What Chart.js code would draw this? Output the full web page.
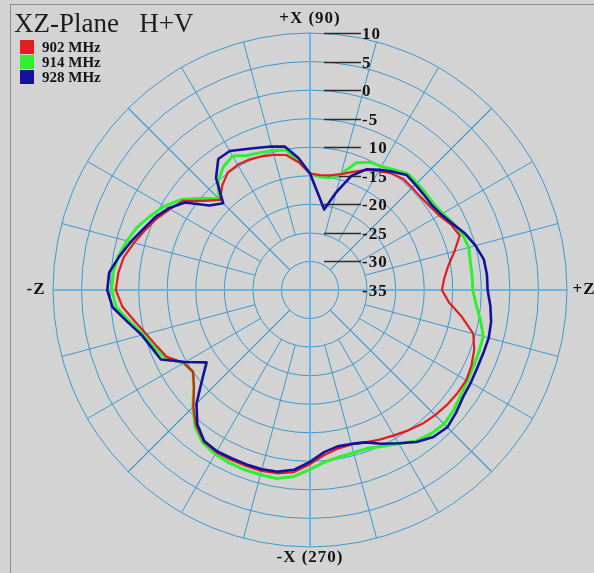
<!DOCTYPE html>
<html>
<head>
<meta charset="utf-8">
<script src="https://cdn.jsdelivr.net/npm/chart.js@4.4.1/dist/chart.umd.min.js"></script>
<style>
  html, body { margin: 0; padding: 0; background: #d3d3d3; }
  #wrap { position: relative; width: 594px; height: 573px; overflow: hidden; }
  #frame { position: absolute; left: 10px; top: 4px; right: 0; bottom: 0;
           border-left: 1px solid #8c8c8c; border-top: 1px solid #8c8c8c; }
  canvas { position: absolute; left: 0; top: 0; }
</style>
</head>
<body>
<div id="wrap">
  <div id="frame"></div>
  <canvas id="polar" width="594" height="573"></canvas>
</div>
<script>
// angle in degrees, counter-clockwise from +Z (right), 0 .. 355
const ANGLES = [0, 5, 10, 15, 20, 25, 30, 35, 40, 45, 50, 55, 60, 65, 70, 75, 80, 85,
  90, 95, 100, 105, 110, 115, 120, 125, 130, 135, 140, 145, 150, 155, 160, 165, 170, 175,
  180, 185, 190, 195, 200, 205, 210, 215, 220, 225, 230, 235, 240, 245, 250, 255, 260, 265,
  270, 275, 280, 285, 290, 295, 300, 305, 310, 315, 320, 325, 330, 335, 340, 345, 350, 355];

// gain in dB, same order as ANGLES
const MHZ_902 = [-11.9, -11.4, -10.4, -8.8, -7.1, -7.8, -8.9, -9.4, -9.7, -9.7, -9.6, -10.1,
  -10.9, -11.8, -13.0, -14.0, -14.6, -14.8, -14.6, -12.6, -11.0, -10.5, -10.1, -9.8,
  -9.7, -9.9, -11.1, -12.7, -10.7, -7.8, -6.7, -5.4, -4.3, -3.1, -1.9, -1.3,
  -1.0, -2.0, -3.8, -5.3, -6.4, -7.3, -9.5, -10.0, -8.5, -6.1, -4.0, -2.6,
  -2.2, -2.2, -2.2, -2.2, -2.4, -3.0, -4.5, -6.0, -6.8, -7.0, -6.6, -6.1,
  -5.6, -5.0, -4.4, -4.0, -3.7, -3.5, -3.4, -3.8, -4.4, -5.4, -8.0, -10.6];

const MHZ_914 = [-6.5, -6.5, -6.5, -6.2, -6.6, -7.3, -8.2, -8.6, -8.6, -8.5, -8.4, -9.3,
  -10.0, -10.3, -11.3, -14.0, -15.1, -15.1, -14.6, -12.2, -10.1, -9.7, -9.4, -9.0,
  -7.9, -8.6, -10.0, -12.4, -10.0, -7.4, -5.6, -4.2, -2.8, -1.8, -0.9, -0.4,
  -0.3, -0.9, -3.0, -4.8, -5.9, -7.0, -9.4, -10.0, -8.4, -6.0, -3.7, -2.3,
  -1.8, -1.6, -1.5, -1.5, -1.5, -2.2, -3.6, -4.8, -5.3, -5.5, -5.5, -4.8,
  -3.9, -2.7, -2.1, -1.8, -2.2, -2.8, -3.2, -3.4, -3.5, -3.6, -4.7, -5.8];

const MHZ_928 = [-3.9, -3.9, -4.1, -5.0, -6.1, -7.5, -8.5, -9.0, -9.0, -8.9, -8.7, -9.7,
  -10.7, -11.7, -13.7, -17.3, -20.7, -18.2, -14.6, -11.8, -9.5, -9.0, -8.5, -7.8,
  -6.9, -7.0, -9.4, -13.5, -12.0, -8.3, -6.4, -5.0, -3.9, -2.5, -1.1, 0.3,
  0.5, -0.3, -2.6, -4.5, -5.5, -6.2, -9.8, -12.9, -10.3, -6.9, -4.3, -2.7,
  -2.4, -2.5, -2.5, -2.5, -2.7, -3.4, -4.9, -6.5, -7.2, -7.1, -6.6, -5.3,
  -4.0, -2.5, -1.4, -1.0, -1.6, -2.3, -2.5, -2.7, -2.7, -2.6, -2.8, -3.3];

const SERIES_NAMES = ['902 MHz', '914 MHz', '928 MHz'];
const SERIES_COLORS = ['#e01e1e', '#2ef02e', '#12129c'];

const TICK_VALUES = [10, 5, 0, -5, -10, -15, -20, -25, -30, -35];
const TICK_LABELS = ['10', '5', '0', '-5', '10', '-15', '-20', '-25', '-30', '-35'];

const AXIS_LABELS = { top: '+X (90)', bottom: '-X (270)', left: '-Z', right: '+Z' };
const TITLE = 'XZ-Plane   H+V';

// radar runs clockwise from its start angle, the pattern runs counter-clockwise
const order = ANGLES.map((a, k) => (ANGLES.length - k) % ANGLES.length);
const pick = arr => order.map(i => arr[i]);

const GRID = '#3b98cf';
const AXIS = '#62b6e8';

const polarDecor = {
  id: 'polarDecor',
  beforeDatasetsDraw(chart) {
    const r = chart.scales.r;
    const ctx = chart.ctx;
    const cx = r.xCenter, cy = r.yCenter;
    ctx.save();
    ctx.font = 'bold 17px "Liberation Serif"';
    ctx.letterSpacing = '1px';
    ctx.textBaseline = 'middle';
    ctx.textAlign = 'left';
    ctx.fillStyle = '#141414';
    const minusW = ctx.measureText('-').width;
    TICK_VALUES.forEach((v, i) => {
      const y = Math.round(cy - r.getDistanceFromCenterForValue(v)) + 0.5;
      if (v > r.min) {
        ctx.strokeStyle = '#2a2a2a';
        ctx.lineWidth = 1.5;
        ctx.beginPath();
        ctx.moveTo(cx + 14, y);
        ctx.lineTo(cx + 51, y);
        ctx.stroke();
      }
      const lbl = TICK_LABELS[i];
      const shift = (v < 0 && lbl[0] !== '-') ? minusW : 0;
      ctx.fillText(lbl, cx + 52 + shift, y + 1);
    });
    ctx.restore();
  },
  afterDraw(chart) {
    const r = chart.scales.r;
    const ctx = chart.ctx;
    const cx = r.xCenter, cy = r.yCenter, R = r.drawingArea;
    ctx.save();
    ctx.fillStyle = '#141414';
    ctx.font = 'bold 17px "Liberation Serif"';
    ctx.letterSpacing = '1px';
    ctx.textBaseline = 'middle';
    ctx.textAlign = 'center';
    ctx.fillText(AXIS_LABELS.top, cx, cy - R - 14);
    ctx.fillText(AXIS_LABELS.bottom, cx, cy + R + 11);
    ctx.fillText(AXIS_LABELS.left, cx - R - 17, cy);
    ctx.fillText(AXIS_LABELS.right, cx + R + 17, cy);

    // title
    ctx.letterSpacing = '0px';
    ctx.textAlign = 'left';
    ctx.textBaseline = 'alphabetic';
    ctx.font = '27px "Liberation Serif"';
    ctx.fillStyle = '#1c1c1c';
    ctx.fillText(TITLE, 14, 32);

    // legend
    ctx.font = 'bold 15px "Liberation Serif"';
    ctx.textBaseline = 'middle';
    SERIES_NAMES.forEach((name, i) => {
      const y = 40 + i * 15;
      ctx.fillStyle = SERIES_COLORS[i];
      ctx.fillRect(20, y, 14, 14);
      ctx.fillStyle = '#141414';
      ctx.fillText(name, 42, y + 8);
    });
    ctx.restore();
  }
};

new Chart(document.getElementById('polar'), {
  type: 'radar',
  data: {
    labels: pick(ANGLES),
    datasets: [
      { label: SERIES_NAMES[0], data: pick(MHZ_902), borderColor: SERIES_COLORS[0], borderWidth: 2.2, order: 1 },
      { label: SERIES_NAMES[1], data: pick(MHZ_914), borderColor: SERIES_COLORS[1], borderWidth: 3, order: 2 },
      { label: SERIES_NAMES[2], data: pick(MHZ_928), borderColor: SERIES_COLORS[2], borderWidth: 2.6, order: 0 }
    ].map(ds => Object.assign(ds, {
      fill: false, pointRadius: 0, pointHoverRadius: 0, tension: 0,
      borderJoinStyle: 'round', backgroundColor: 'transparent'
    }))
  },
  options: {
    responsive: false,
    devicePixelRatio: 1,
    animation: false,
    layout: { padding: { left: 53, right: 27, top: 33, bottom: 26 } },
    plugins: { legend: { display: false }, tooltip: { enabled: false } },
    scales: {
      r: {
        min: -35,
        max: 10,
        startAngle: 90,
        ticks: { stepSize: 5, display: false },
        pointLabels: { display: false },
        grid: { circular: true, color: GRID, lineWidth: 1 },
        angleLines: {
          color: c => (c.index % 18 === 0 ? AXIS : GRID),
          // a plain 1px stroke at exactly 45 degrees renders grey, so widen those a touch
          lineWidth: c => (c.index % 18 === 0 ? 2 : c.index % 9 === 0 ? 1.15 : c.index % 3 === 0 ? 1 : 0),
          borderDash: c => {
            const k = c.index;
            if (k % 18 === 0) return [];
            const s = c.chart.scales.r;
            const from = k % 9 === 0 ? -30 : -25;
            return [0, s.getDistanceFromCenterForValue(from), 2000, 0];
          }
        }
      }
    }
  },
  plugins: [polarDecor]
});
</script>
</body>
</html>
